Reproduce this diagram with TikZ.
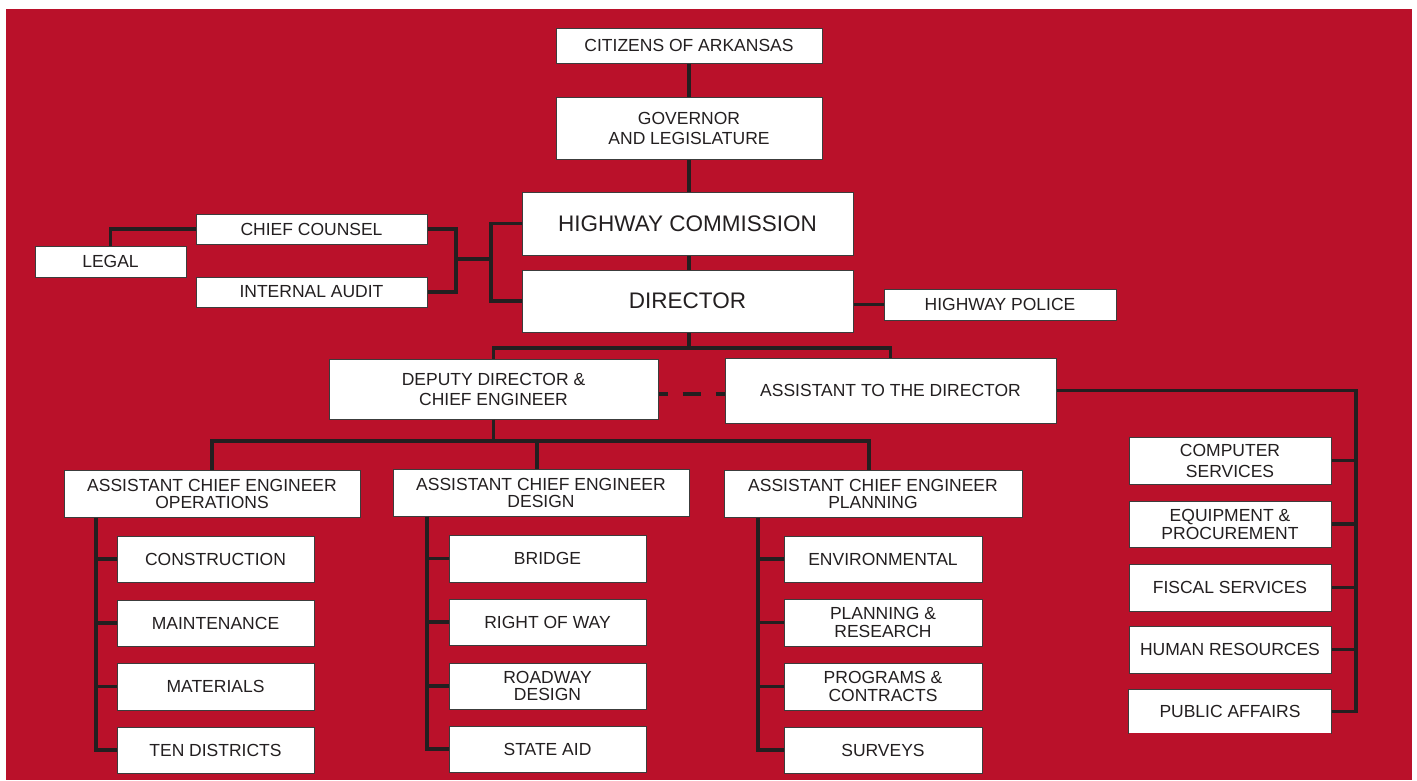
\documentclass[tikz,border=0pt]{standalone}
\usepackage{fontspec}
\setmainfont{Liberation Sans}
\usetikzlibrary{calc}
\definecolor{ahred}{RGB}{186,17,42}
\definecolor{ink}{RGB}{35,31,32}
\definecolor{edgegray}{RGB}{60,60,60}
\begin{document}
\begin{tikzpicture}[x=1pt,y=-1pt,
  box/.style={draw=edgegray, line width=1pt, fill=white, inner sep=0pt, align=center, text=ink,
    font=\fontsize{17.5}{18.5}\selectfont},
  bigbox/.style={box, font=\fontsize{22.5}{24}\selectfont},
  link/.style={draw=ink, line width=3.6pt},
  dashlink/.style={link, dash pattern=on 18pt off 15pt, dash phase=9pt},
]
\useasboundingbox (0,0) rectangle (1417,780);
\fill[white] (0,0) rectangle (1417,780);
\fill[ahred] (6,9) rectangle (1412,780);

% top chain
\node[box, minimum width=266, minimum height=35] (cit) at (689,45.5) {CITIZENS OF ARKANSAS};
\node[box, minimum width=266, minimum height=62, font=\fontsize{17.5}{20}\selectfont] (gov) at (689,128) {GOVERNOR\\AND LEGISLATURE};
\node[bigbox, minimum width=331, minimum height=63] (hc) at (687.5,223.5) {HIGHWAY COMMISSION};
\node[bigbox, minimum width=331, minimum height=62] (dir) at (687.5,301) {DIRECTOR};
\node[box, minimum width=232, minimum height=31] (pol) at (1000,304.5) {HIGHWAY POLICE};
\node[box, minimum width=231, minimum height=30] (cc) at (311.5,229) {CHIEF COUNSEL};
\node[box, minimum width=231, minimum height=30] (ia) at (311.5,292) {INTERNAL AUDIT};
\node[box, minimum width=151, minimum height=31] (legal) at (110.5,261.5) {LEGAL};
\node[box, minimum width=329, minimum height=60, font=\fontsize{17.5}{20}\selectfont] (dep) at (493.5,389) {DEPUTY DIRECTOR \&\\CHIEF ENGINEER};
\node[box, minimum width=331, minimum height=65] (atd) at (890.5,390.5) {ASSISTANT TO THE DIRECTOR};

% assistant chief engineers
\node[box, minimum width=296, minimum height=47, font=\fontsize{17.5}{17}\selectfont] (ops) at (212,493.5) {ASSISTANT CHIEF ENGINEER\\OPERATIONS};
\node[box, minimum width=296, minimum height=47, font=\fontsize{17.5}{17}\selectfont] (des) at (541,492.5) {ASSISTANT CHIEF ENGINEER\\DESIGN};
\node[box, minimum width=298, minimum height=47, font=\fontsize{17.5}{17}\selectfont] (pla) at (873,493.5) {ASSISTANT CHIEF ENGINEER\\PLANNING};

% operations
\node[box, minimum width=197, minimum height=46] (con) at (215.5,559) {CONSTRUCTION};
\node[box, minimum width=197, minimum height=46] (mai) at (215.5,623) {MAINTENANCE};
\node[box, minimum width=197, minimum height=47] (mat) at (215.5,686.5) {MATERIALS};
\node[box, minimum width=197, minimum height=46] (ten) at (215.5,750) {TEN DISTRICTS};

% design
\node[box, minimum width=197, minimum height=47] (bri) at (547.5,558.5) {BRIDGE};
\node[box, minimum width=197, minimum height=46] (row) at (547.5,622) {RIGHT OF WAY};
\node[box, minimum width=197, minimum height=46, font=\fontsize{17.5}{17}\selectfont] (rdw) at (547.5,686) {ROADWAY\\DESIGN};
\node[box, minimum width=197, minimum height=46] (sta) at (547.5,749) {STATE AID};

% planning
\node[box, minimum width=198, minimum height=46] (env) at (883,559) {ENVIRONMENTAL};
\node[box, minimum width=198, minimum height=47, font=\fontsize{17.5}{18}\selectfont] (par) at (883,622.5) {PLANNING \&\\RESEARCH};
\node[box, minimum width=198, minimum height=47, font=\fontsize{17.5}{18}\selectfont] (pac) at (883,686.5) {PROGRAMS \&\\CONTRACTS};
\node[box, minimum width=198, minimum height=46] (sur) at (883,750) {SURVEYS};

% right column
\node[box, minimum width=202, minimum height=47, font=\fontsize{17.5}{21}\selectfont] (cs) at (1230,460.5) {COMPUTER\\SERVICES};
\node[box, minimum width=202, minimum height=46, font=\fontsize{17.5}{18}\selectfont] (ep) at (1230,524) {EQUIPMENT \&\\PROCUREMENT};
\node[box, minimum width=202, minimum height=47] (fs) at (1230,587.5) {FISCAL SERVICES};
\node[box, minimum width=202, minimum height=47] (hr) at (1230,649.5) {HUMAN RESOURCES};
\node[box, draw=none, minimum width=202, minimum height=43] (pa) at (1230,711.5) {PUBLIC AFFAIRS};
\draw[edgegray, line width=1pt] (pa.south west) |- (pa.north east) -- (pa.south east);

% helper coordinates
\coordinate (busA) at (0,348);
\coordinate (busB) at (0,441);
\coordinate (dashy) at (0,394);
\coordinate (jnL) at (456,259);
\coordinate (jnR) at (491,259);
\coordinate (opsSp) at (96,0);
\coordinate (desSp) at (427,0);
\coordinate (plaSp) at (758,0);
\coordinate (rSp) at (1356,0);
\coordinate (desTop) at ($(des.north)+(-4,0)$);
\coordinate (plaTop) at ($(pla.north)+(-4,0)$);

% top chain connectors
\draw[link] (cit.south) -- (cit.south |- gov.north);
\draw[link] (gov.south) -- (gov.south |- hc.north);
\draw[link] (gov.south |- hc.south) -- (gov.south |- dir.north);
\draw[link] (gov.south |- dir.south) -- (gov.south |- busA);
\draw[link] (dep.north) -- (dep.north |- busA) -| (atd.north);
\draw[link] (dir.east |- pol.west) -- (pol.west);
\draw[dashlink] (dep.east |- dashy) -- (atd.west |- dashy);

% left cluster
\draw[link] (legal.north) |- (cc.west);
\draw[link] (cc.east) -| (jnL) |- (ia.east);
\draw[link] (jnL) -- (jnR);
\draw[link] (hc.west) -| (jnR) |- (dir.west);

% deputy to assistant chief engineers
\draw[link] (dep.south) -- (dep.south |- busB);
\draw[link] (ops.north) -- (ops.north |- busB) -| (plaTop);
\draw[link] (desTop) -- (desTop |- busB);

% operations
\draw[link] (ops.south -| opsSp) |- (ten.west);
\draw[link] (con.west) -- (con.west -| opsSp);
\draw[link] (mai.west) -- (mai.west -| opsSp);
\draw[link] (mat.west) -- (mat.west -| opsSp);

% design
\draw[link] (des.south -| desSp) |- (sta.west);
\draw[link] (bri.west) -- (bri.west -| desSp);
\draw[link] (row.west) -- (row.west -| desSp);
\draw[link] (rdw.west) -- (rdw.west -| desSp);

% planning
\draw[link] (pla.south -| plaSp) |- (sur.west);
\draw[link] (env.west) -- (env.west -| plaSp);
\draw[link] (par.west) -- (par.west -| plaSp);
\draw[link] (pac.west) -- (pac.west -| plaSp);

% right column
\draw[link] (atd.east) -| (rSp |- pa.east) -- (pa.east);
\draw[link] (cs.east) -- (cs.east -| rSp);
\draw[link] (ep.east) -- (ep.east -| rSp);
\draw[link] (fs.east) -- (fs.east -| rSp);
\draw[link] (hr.east) -- (hr.east -| rSp);
\end{tikzpicture}
\end{document}
